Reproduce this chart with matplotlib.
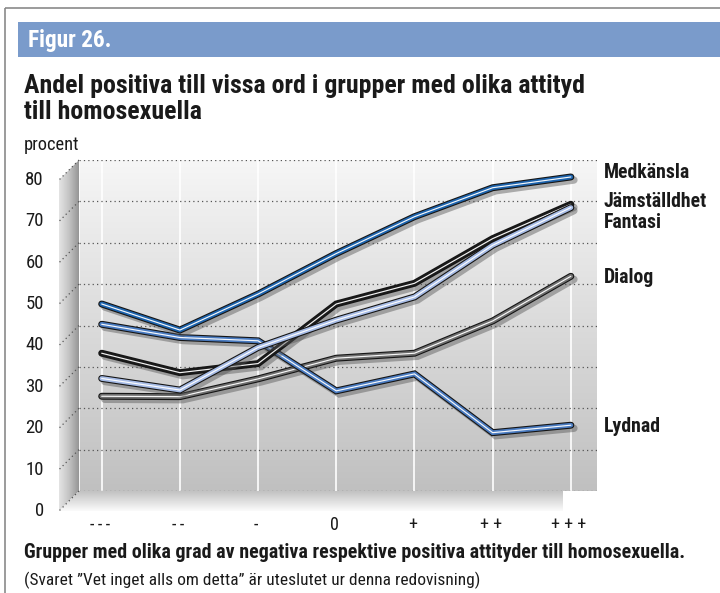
import numpy as np
import matplotlib
matplotlib.use("Agg")
import matplotlib.pyplot as plt
import matplotlib.patheffects as pe
from matplotlib import font_manager
from matplotlib.colors import LinearSegmentedColormap
from matplotlib.patches import Polygon, Rectangle
from matplotlib.transforms import ScaledTranslation

# pick the narrowest installed sans
for fam in ["Roboto Condensed", "Liberation Sans Narrow", "DejaVu Sans Condensed", "Roboto", "DejaVu Sans"]:
    try:
        font_manager.findfont(fam, fallback_to_default=False)
        break
    except ValueError:
        continue
plt.rcParams['font.family'] = [fam, 'DejaVu Sans']

categories = ["-\u2009-\u2009-", "-\u2009-", "-", "0", "+", "+ +", "+ + +"]
medkansla = [45.2, 38.9, 47.6, 57.4, 66.3, 73.3, 75.9]
jamstalldhet = [33.3, 28.6, 30.8, 45.2, 50.2, 61.0, 69.3]
fantasi = [27.2, 24.4, 34.7, 41.3, 46.9, 59.4, 68.5]
dialog = [22.9, 22.8, 27.1, 32.1, 33.3, 41.1, 51.9]
lydnad = [40.3, 37.1, 36.3, 24.2, 28.3, 14.1, 15.9]
yticks = [0, 10, 20, 30, 40, 50, 60, 70, 80]

series_names = ["Dialog", "Lydnad", "Jämställdhet", "Fantasi", "Medkänsla"]
series_vals = [dialog, lydnad, jamstalldhet, fantasi, medkansla]
series_cols = ["#6e6e6e", "#4a7bc0", "#1b1b1b", "#a7bce6", "#1d63ac"]

label_names = ["Medkänsla", "Jämställdhet", "Fantasi", "Dialog", "Lydnad"]
label_y = [76.9, 69.9, 64.8, 51.5, 15.5]

W, H = 720, 593
fig = plt.figure(figsize=(W / 100, H / 100), dpi=100)
fig.patch.set_facecolor("white")
renderer = fig.canvas.get_renderer()


def fit(txt, width):
    # shrink/grow a text so it spans the given pixel width
    w = txt.get_window_extent(renderer).width
    txt.set_fontsize(txt.get_fontsize() * width / w)
    return txt.get_fontsize()


# overlay in pixel coords (y down)
ov = fig.add_axes([0, 0, 1, 1], zorder=0)
ov.set_xlim(0, W)
ov.set_ylim(H, 0)
ov.axis("off")

# back wall axes
bx0, bx1, by0, by1 = 79, 597, 160, 491
ax = fig.add_axes([bx0 / W, (H - by1) / H, (bx1 - bx0) / W, (by1 - by0) / H], zorder=1)
ax.set_xlim(-0.29, 6.334)
ax.set_ylim(0, 80)
ax.axis("off")
ax.patch.set_alpha(0)

depth = 20  # px offset of the front plane

# frame and header
ov.add_patch(Rectangle((5, 8), 800, 700, fill=False, ec="#8a8a8a", lw=1.2))
ov.add_patch(Rectangle((18, 22), 800, 35, fc="#7a9bcb", ec="none"))
t = ov.text(28, 41, "Figur 26.", color="white", fontsize=15, fontweight="bold", va="center")
fit(t, 84)
t1 = ov.text(24, 86, "Andel positiva till vissa ord i grupper med olika attityd",
             fontsize=16, fontweight="bold", va="center", color="#1a1a1a")
fs = fit(t1, 562)
ov.text(24, 112, "till homosexuella", fontsize=fs, fontweight="bold", va="center", color="#1a1a1a")
t = ov.text(24, 145, "procent", fontsize=11, va="center", color="#1a1a1a")
fit(t, 55)

# back wall gradient
grad = np.linspace(0, 1, 256).reshape(-1, 1)
ax.imshow(grad, extent=(-0.29, 6.334, 0, 80), aspect="auto",
          cmap=LinearSegmentedColormap.from_list("bw", ["#c0c0c0", "#f6f6f6"]),
          origin="lower", zorder=0)

# side wall and floor, derived from the back wall geometry
bl = ax.transAxes.transform((0, 0))
tl = ax.transAxes.transform((0, 1))
fr = ax.transData.transform((6, 0))
side = [(tl[0], H - tl[1]), (bl[0], H - bl[1]), (bl[0] - depth, H - bl[1] + depth), (tl[0] - depth, H - tl[1] + depth)]
sg = ov.imshow(np.linspace(0, 1, 64).reshape(1, -1),
               extent=(bl[0] - depth, bl[0], H - bl[1] + depth, H - tl[1]),
               cmap=LinearSegmentedColormap.from_list("sw", ["#e4e4e4", "#c4c4c4", "#969696"]),
               aspect="auto", zorder=1)
sp = Polygon(side, closed=True, transform=ov.transData, fc="none", ec="none")
ov.add_patch(sp)
sg.set_clip_path(sp)

fx = fr[0] - 8
floor = [(bl[0], H - bl[1]), (fx, H - bl[1]), (fx, H - bl[1] + depth), (bl[0] - depth, H - bl[1] + depth)]
fg = ov.imshow(np.linspace(0, 1, 64).reshape(-1, 1),
               extent=(bl[0] - depth, fx, H - bl[1] + depth, H - bl[1]),
               cmap=LinearSegmentedColormap.from_list("fl", ["#c2c2c2", "#fbfbfb"]),
               aspect="auto", zorder=1)
fp = Polygon(floor, closed=True, transform=ov.transData, fc="none", ec="none")
ov.add_patch(fp)
fg.set_clip_path(fp)
ov.set_xlim(0, W)
ov.set_ylim(H, 0)

# gridlines
ax.axvline(-0.29, color="white", lw=1.2, zorder=1)
for i in range(len(categories)):
    ax.axvline(i, color="white", lw=1.2, zorder=1)
for v in yticks:
    ax.axhline(v, color="#555555", lw=0.9, ls=(0, (1, 2.5)), zorder=2)
    p0 = ax.transData.transform((-0.29, v))
    ov.plot([p0[0], p0[0] - depth], [H - p0[1], H - p0[1] + depth], color="#555555", lw=0.9,
            ls=(0, (1, 2.5)), zorder=2)
    ax.text(0, v, str(v), transform=ax.get_yaxis_transform()
            + ScaledTranslation(-35 / 100, -depth / 100, fig.dpi_scale_trans),
            ha="right", va="center", fontsize=13.5, color="#1a1a1a", clip_on=False)

# x labels
for i, c in enumerate(categories):
    ax.text(i, 0, c, transform=ax.get_xaxis_transform()
            + ScaledTranslation(-2 / 100, -34 / 100, fig.dpi_scale_trans),
            ha="center", va="center", fontsize=13, color="#1a1a1a", clip_on=False)

# series
x = np.arange(len(categories))
for name, vals, col in zip(series_names, series_vals, series_cols):
    ax.plot(x, vals, color=col, lw=3.4, solid_capstyle="round", solid_joinstyle="miter", zorder=3,
            path_effects=[pe.SimpleLineShadow(offset=(2.2, -2.2), shadow_color="#555555", alpha=0.45, linewidth=5.3),
                          pe.Stroke(linewidth=5.0, foreground="#151515"), pe.Normal()])
    ax.plot(x, vals, color="white", lw=0.85, solid_capstyle="round", solid_joinstyle="miter", zorder=3, alpha=0.95)

# series labels on the right
lab_fs = None
for name, yv in zip(label_names, label_y):
    t = ax.text(1, yv, name, transform=ax.get_yaxis_transform() + ScaledTranslation(7 / 100, 0, fig.dpi_scale_trans),
                ha="left", va="center", fontsize=12.5, fontweight="bold", color="#1a1a1a", clip_on=False)
    if name == "Jämställdhet":
        lab_fs = fit(t, 103)
for t in ax.texts:
    if t.get_text() in label_names:
        t.set_fontsize(lab_fs)

# footer
t = ov.text(24, 553, "Grupper med olika grad av negativa respektive positiva attityder till homosexuella.",
            fontsize=12.5, fontweight="bold", va="center", color="#1a1a1a")
fit(t, 659)
t = ov.text(24, 580, "(Svaret \u201dVet inget alls om detta\u201d är uteslutet ur denna redovisning)",
            fontsize=10.5, va="center", color="#1a1a1a")
fit(t, 456)

fig.savefig("out.png", dpi=100)
